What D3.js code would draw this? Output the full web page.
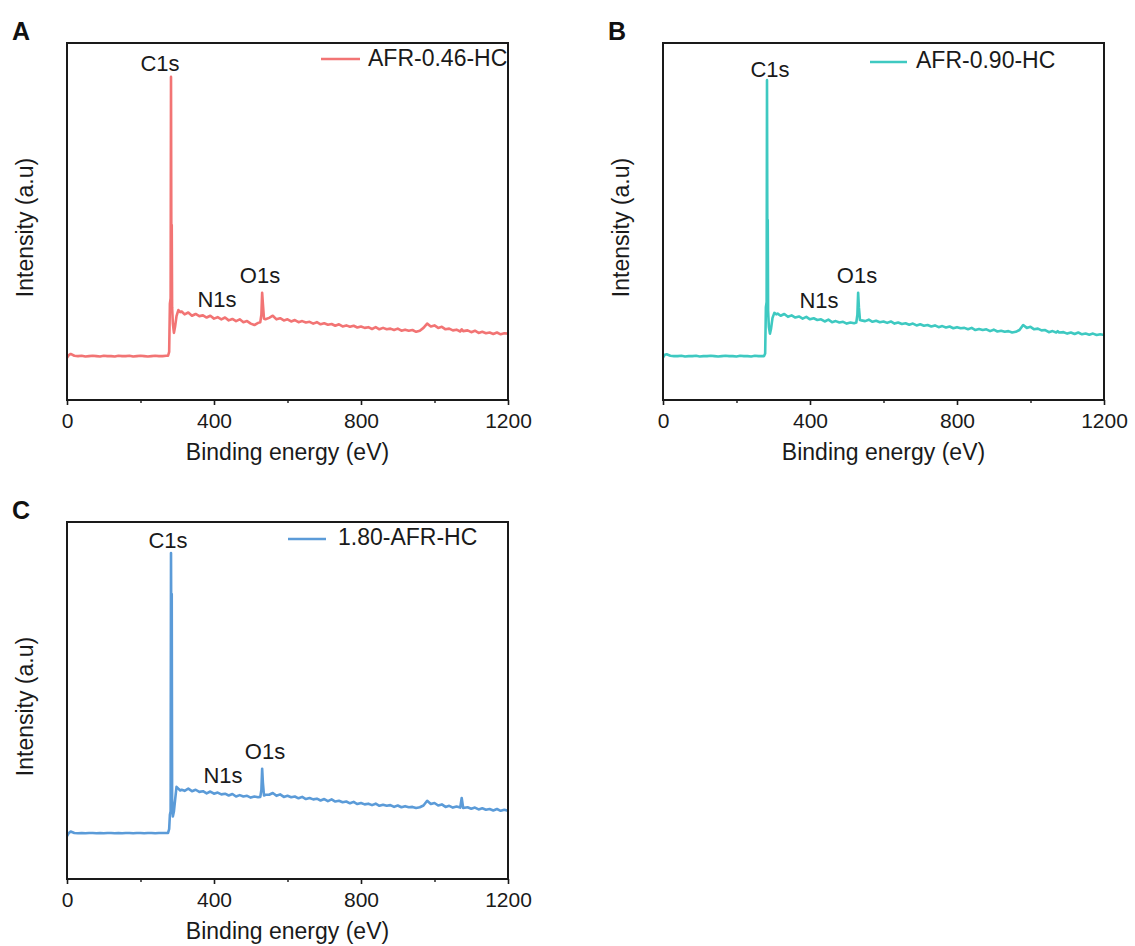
<!DOCTYPE html>
<html>
<head>
<meta charset="utf-8">
<script src="https://cdn.jsdelivr.net/npm/d3@7"></script>
<style>
  html, body { margin: 0; padding: 0; background: #fff; }
  svg { display: block; font-family: "Liberation Sans", Arial, sans-serif; }
</style>
</head>
<body>
<svg id="chart" width="1135" height="946"></svg>
<script>
// ---------------- DATA ----------------
const xTicks = [0, 400, 800, 1200];
const xMinorTicks = [200, 600, 1000];
const peakNames = ["C1s", "N1s", "O1s"];
const seriesNames = ["AFR-0.46-HC", "AFR-0.90-HC", "1.80-AFR-HC"];
const panelLetters = ["A", "B", "C"];

const energy = [
  0,5,10,20,30,40,50,60,70,80,90,100,110,120,130,140,150,160,170,180,190,200,210,220,230,240,250,260,270,
  275,278,280,282,283,284,285,286,288,291,294,298,303,308,312,
  320,330,340,350,360,370,380,390,400,410,420,430,440,450,460,470,480,490,500,510,520,
  526,529,531,533,536,540,
  550,560,570,580,590,600,610,620,630,640,
  650,660,670,680,690,700,710,720,730,740,
  750,760,770,780,790,800,810,820,830,840,
  850,860,870,880,890,900,910,920,930,940,
  950,960,970,980,990,1000,1010,1020,1030,1040,
  1050,1060,
  1070,1074,1078,
  1090,1100,1110,1120,1130,1140,1150,1160,1170,1180,1190,1200
];

const intensityA = [
  11.8,12.6,12.9,12.4,12.3,12.4,12.2,12.3,12.4,12.3, 12.2,12.4,12.3,12.3,12.2,12.4,12.3,12.3,12.4,12.2, 12.3,12.4,12.3,12.2,12.3,12.4,12.3,12.3,12.4,
  12.4,13.5,27.0,28.5,90.5,40.0,49.0,26.0,21.5,18.8, 20.5,23.5,25.2,24.6,24.8,
  24.0,24.5,23.6,24.1,23.5,23.7,23.1,23.6,22.8,23.2, 22.6,23.1,22.3,22.7,22.1,22.6,21.8,22.1,21.4,21.0, 21.6,
  21.8,24.0,30.0,27.0,22.8,22.6,
  23.0,23.6,22.6,22.9,22.3,22.6,22.0,22.4,21.8,22.1,
  21.7,21.9,21.4,21.8,21.2,21.5,21.1,21.3,20.8,21.2,
  20.6,20.9,20.5,20.8,20.3,20.6,20.2,20.4,19.9,20.4,
  19.8,20.2,19.8,20.0,19.6,20.0,19.4,19.7,19.4,19.6,
  19.1,19.4,20.2,21.4,20.6,20.9,20.2,20.5,19.8,20.0,
  19.5,19.7,
  19.2,19.8,19.3,
  19.5,19.0,19.4,18.8,19.1,18.7,18.9,18.5,18.9,18.4,18.7,18.6
];

const intensityB = [
  11.9,12.7,12.8,12.4,12.3,12.3,12.4,12.2,12.3,12.3, 12.4,12.2,12.3,12.3,12.4,12.3,12.2,12.3,12.4,12.3, 12.3,12.2,12.4,12.3,12.3,12.2,12.4,12.3,12.3,
  12.3,13.0,26.0,27.5,89.6,42.0,50.4,25.0,20.5,18.6, 20.0,23.0,24.4,24.0,24.2,
  23.6,24.1,23.3,23.7,23.1,23.4,22.8,23.3,22.6,22.9, 22.4,22.6,22.0,22.5,21.8,22.1,21.7,21.9,21.4,21.7, 21.5,
  21.7,24.0,30.0,26.0,22.4,22.3,
  22.1,22.5,21.9,22.2,21.8,22.0,21.6,22.0,21.4,21.7,
  21.3,21.5,21.1,21.4,20.9,21.2,20.8,21.0,20.6,20.9,
  20.4,20.7,20.3,20.6,20.1,20.4,20.1,20.2,19.8,20.2,
  19.6,19.9,19.6,19.8,19.3,19.7,19.2,19.4,19.1,19.3,
  18.9,19.1,19.6,21.0,20.2,20.5,19.8,20.0,19.5,19.6,
  19.0,19.3,
  18.9,19.3,18.9,
  19.0,18.6,18.9,18.5,18.9,18.4,18.6,18.3,18.6,18.2,18.4,18.2
];

const intensityC = [
  12.0,12.9,13.3,12.9,12.8,12.9,12.8,12.9,12.9,12.8, 12.9,12.8,12.9,12.9,12.8,12.9,12.8,12.9,12.9,12.8, 12.9,12.9,12.8,12.9,12.9,12.8,12.9,12.9,12.9,
  12.9,14.0,18.0,19.0,91.3,60.0,79.8,22.0,17.5,19.0, 22.0,25.8,25.3,24.8,25.0,
  24.7,25.3,24.6,25.0,24.4,24.6,24.0,24.5,23.9,24.2, 23.7,23.9,23.4,23.8,23.1,23.5,23.1,23.3,22.8,23.1, 22.9,
  23.0,25.0,30.9,27.0,23.4,23.6,
  23.6,24.1,23.3,23.7,23.0,23.3,22.9,23.1,22.6,23.0,
  22.4,22.7,22.3,22.5,22.0,22.4,21.8,22.3,21.7,21.9,
  21.5,21.7,21.2,21.6,21.0,21.3,20.9,21.1,20.7,21.1,
  20.5,20.8,20.5,20.7,20.2,20.6,20.1,20.4,20.1,20.2,
  19.9,20.1,20.6,21.9,21.0,21.3,20.6,20.9,20.2,20.5,
  20.0,20.3,
  20.0,22.7,19.9,
  20.1,19.7,20.0,19.5,19.8,19.4,19.6,19.2,19.6,19.1,19.4,19.1
];

const seriesValues = [intensityA, intensityB, intensityC];
const seriesColors = ["#f27474", "#3ec9c1", "#5b9bd8"];

// ---------------- LAYOUT ----------------
const frameW = 441, frameH = 357;
const panels = [
  { left: 67,  top: 43,
    peaks: [[93, 28], [150, 264], [193, 240]],
    legend: { x1: 254, x2: 293, y: 16, tx: 301, ty: 23 } },
  { left: 663, top: 43,
    peaks: [[107, 34], [156, 265], [194, 240]],
    legend: { x1: 207, x2: 244, y: 19, tx: 253, ty: 25 } },
  { left: 67,  top: 522,
    peaks: [[101, 26], [156, 261], [198, 237]],
    legend: { x1: 221, x2: 259, y: 17, tx: 271, ty: 23 } }
];

const svg = d3.select("#chart");

panels.forEach((p, i) => {
  const g = svg.append("g").attr("transform", `translate(${p.left},${p.top})`);
  const x = d3.scaleLinear().domain([0, 1200]).range([0, frameW]);
  const y = d3.scaleLinear().domain([0, 100]).range([frameH, 0]);

  // spectrum
  const pts = energy.map((e, k) => [e, seriesValues[i][k]]);
  g.append("path")
    .datum(pts)
    .attr("fill", "none")
    .attr("stroke", seriesColors[i])
    .attr("stroke-width", 2.6)
    .attr("stroke-linejoin", "round")
    .attr("d", d3.line().x(d => x(d[0])).y(d => y(d[1])));

  // frame
  g.append("rect")
    .attr("x", 0).attr("y", 0).attr("width", frameW).attr("height", frameH)
    .attr("fill", "none").attr("stroke", "#1a1a1a").attr("stroke-width", 2);

  // x axis (major)
  const axis = d3.axisBottom(x).tickValues(xTicks).tickSize(5).tickPadding(8).tickFormat(d3.format("d"));
  const ax = g.append("g").attr("transform", `translate(0,${frameH})`).call(axis);
  ax.select(".domain").remove();
  ax.selectAll("line").attr("stroke", "#1a1a1a").attr("stroke-width", 1.6);
  ax.selectAll("text").attr("font-size", 21).attr("fill", "#1a1a1a")
    .attr("font-family", "'Liberation Sans', Arial, sans-serif");

  // minor ticks
  const axisMinor = d3.axisBottom(x).tickValues(xMinorTicks).tickSize(3).tickFormat("");
  const axm = g.append("g").attr("transform", `translate(0,${frameH})`).call(axisMinor);
  axm.select(".domain").remove();
  axm.selectAll("line").attr("stroke", "#1a1a1a").attr("stroke-width", 1.4);

  // axis titles
  g.append("text")
    .attr("x", frameW / 2).attr("y", frameH + 60)
    .attr("text-anchor", "middle").attr("font-size", 23).attr("fill", "#1a1a1a")
    .text("Binding energy (eV)");
  g.append("text")
    .attr("transform", `translate(-34,${frameH / 2 + 6}) rotate(-90)`)
    .attr("text-anchor", "middle").attr("font-size", 23).attr("fill", "#1a1a1a")
    .text("Intensity (a.u)");

  // panel letter
  g.append("text")
    .attr("x", -55).attr("y", -3)
    .attr("font-size", 25).attr("font-weight", "bold").attr("fill", "#111")
    .text(panelLetters[i]);

  // peak labels
  p.peaks.forEach((pk, j) => {
    g.append("text")
      .attr("x", pk[0]).attr("y", pk[1])
      .attr("text-anchor", "middle").attr("font-size", 22).attr("fill", "#1a1a1a")
      .text(peakNames[j]);
  });

  // legend
  g.append("line")
    .attr("x1", p.legend.x1).attr("x2", p.legend.x2)
    .attr("y1", p.legend.y).attr("y2", p.legend.y)
    .attr("stroke", seriesColors[i]).attr("stroke-width", 2.5);
  g.append("text")
    .attr("x", p.legend.tx).attr("y", p.legend.ty)
    .attr("font-size", 23).attr("fill", "#1a1a1a")
    .text(seriesNames[i]);
});
</script>
</body>
</html>
